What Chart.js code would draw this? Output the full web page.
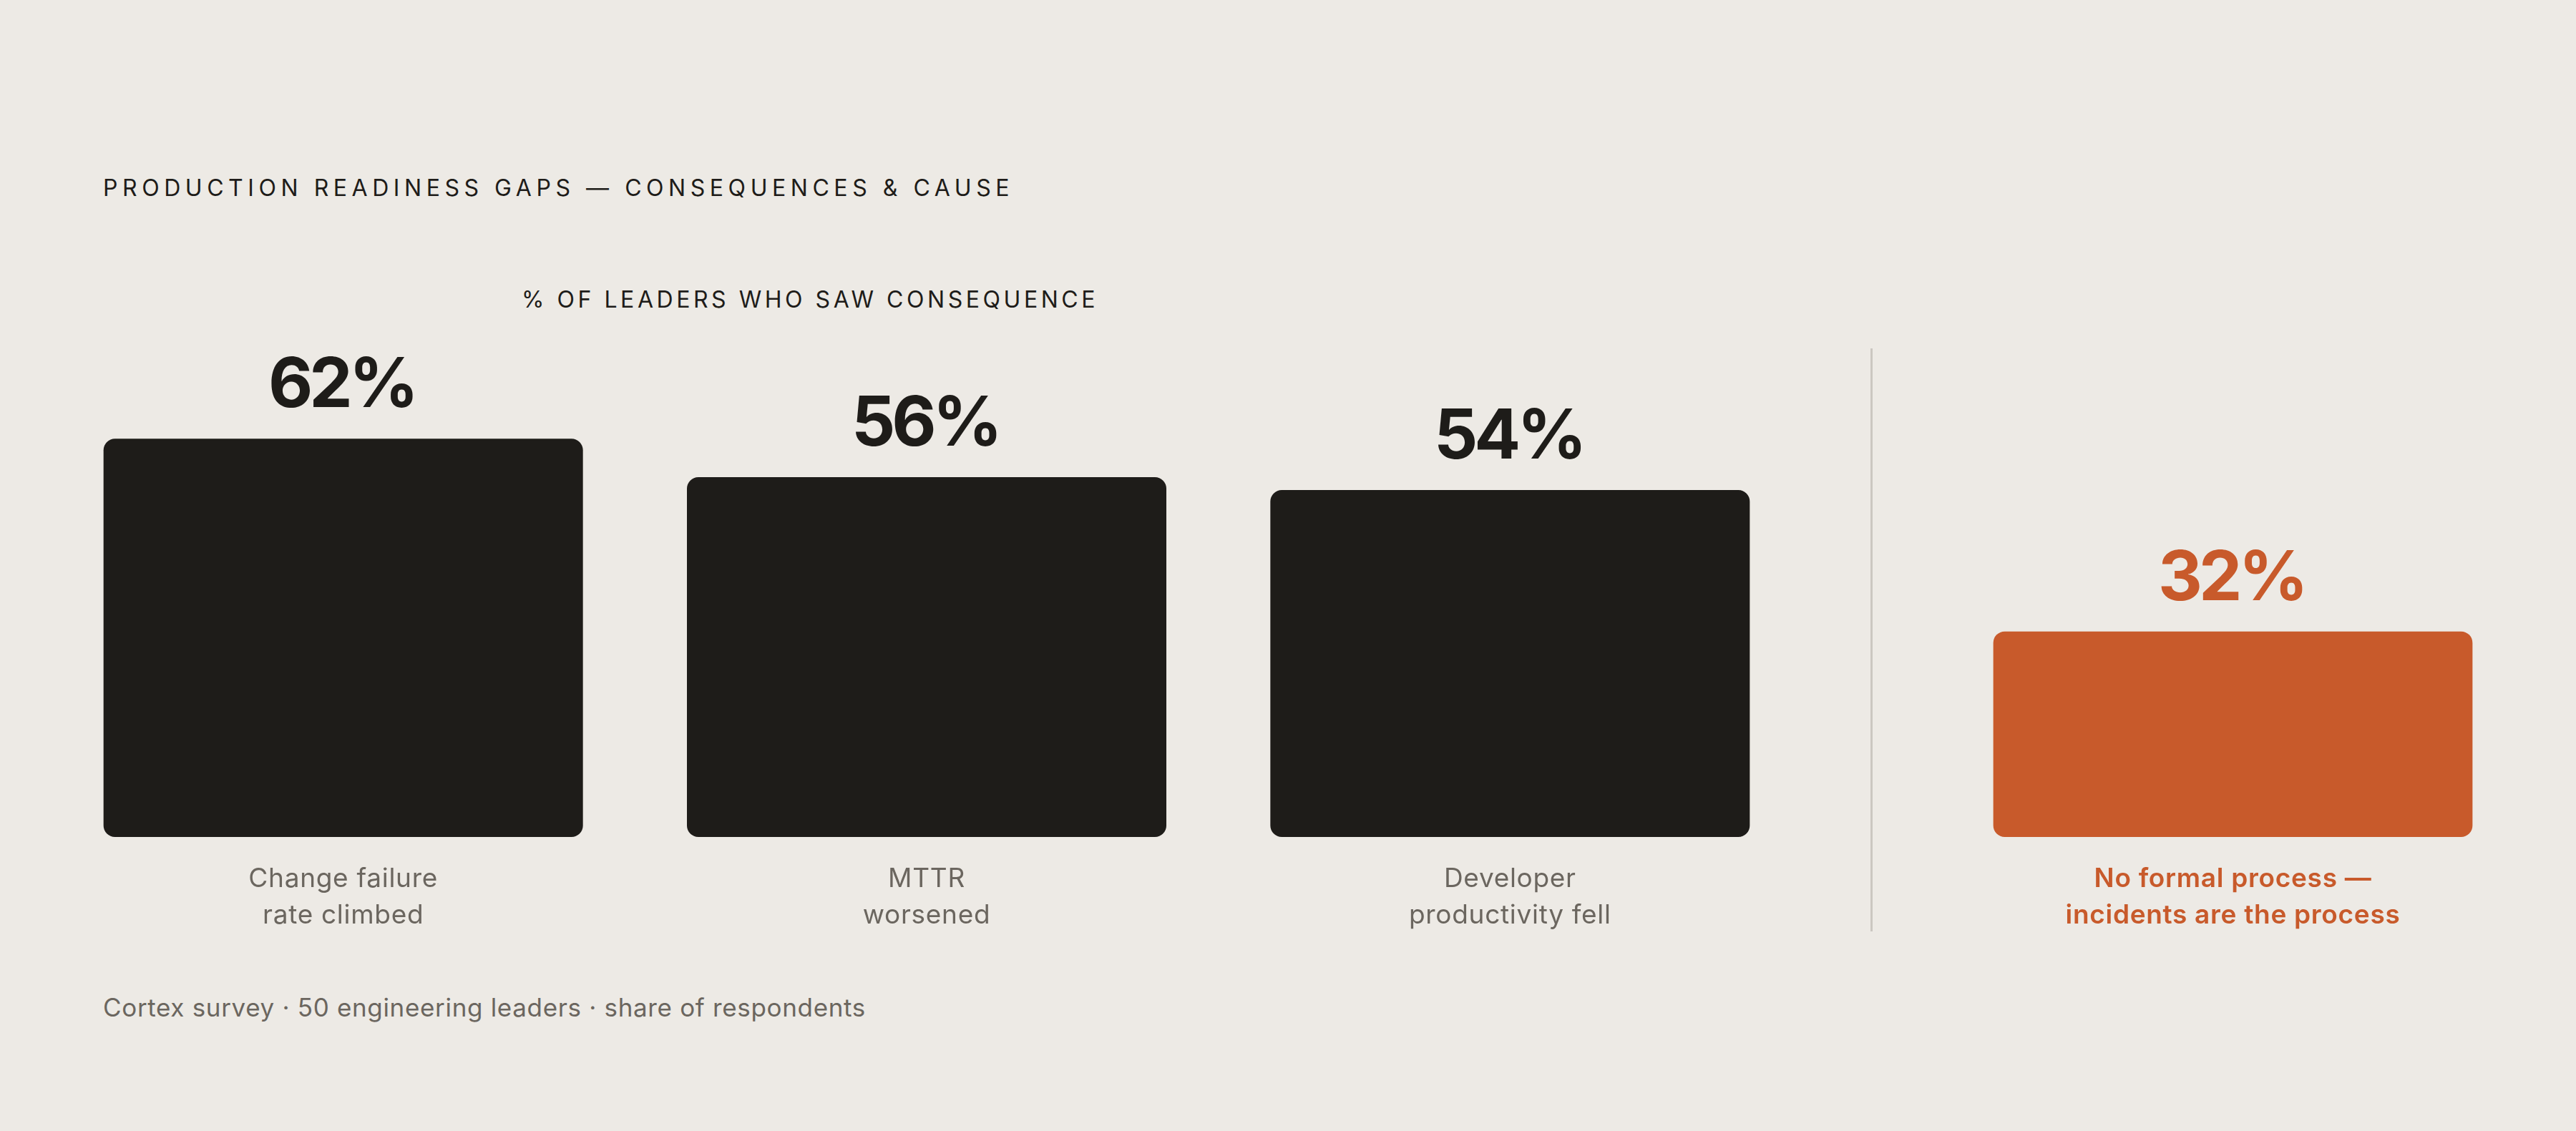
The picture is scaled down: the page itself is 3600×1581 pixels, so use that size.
<!DOCTYPE html>
<html><head><meta charset="utf-8">
<script src="https://cdn.jsdelivr.net/npm/chart.js@4.4.1/dist/chart.umd.min.js"></script>
<style>
html,body{margin:0;padding:0;background:#EDEAE5;width:3600px;height:1581px;overflow:hidden;font-family:Inter,"DejaVu Sans",sans-serif;}
.t{position:absolute;white-space:nowrap;line-height:1;margin:0;font-weight:400;}
#title{left:144px;top:247px;font-size:32px;color:#1e1c19;}
#subtitle{left:729px;top:403px;font-size:32px;color:#1e1c19;}
#footer{left:144px;top:1391px;font-size:35px;color:#6b665f;}
#divider{position:absolute;left:2614px;top:487px;width:3px;height:815px;background:#CBC7C1;}
.wrap{position:absolute;top:200px;height:1140px;}
#w1{left:72px;width:2446px;}
#w2{left:2713px;width:815px;}
</style>
</head><body>
<h1 class="t" id="title">PRODUCTION READINESS GAPS — CONSEQUENCES &amp; CAUSE</h1>
<div class="t" id="subtitle">% OF LEADERS WHO SAW CONSEQUENCE</div>
<div id="divider"></div>
<div class="wrap" id="w1"><canvas id="c1"></canvas></div>
<div class="wrap" id="w2"><canvas id="c2"></canvas></div>
<div class="t" id="footer">Cortex survey · 50 engineering leaders · share of respondents</div>
<script>
// ---- data ----
const consequenceLabels = [["Change failure", "rate climbed"], ["MTTR", "worsened"], ["Developer", "productivity fell"]];
const consequenceValues = [62, 56, 54];
const causeLabels = [["No formal process —", "incidents are the process"]];
const causeValues = [32];
const yMax = 100;

// ---- style ----
const DARK = '#1E1C19';
const ORANGE = '#C85A2B';
const GRAY = '#6B665F';
const FONT = 'Inter, "DejaVu Sans", sans-serif';

function fitSpacing(id, target) {
  const el = document.getElementById(id);
  el.style.letterSpacing = '0px';
  const w = el.getBoundingClientRect().width;
  const n = el.textContent.length;
  el.style.letterSpacing = ((target - w) / n) + 'px';
}
fitSpacing('title', 1273);
fitSpacing('subtitle', 806);
fitSpacing('footer', 1066);

const spacing = {
  id: 'spacing',
  beforeDraw(chart) { chart.ctx.letterSpacing = '0.7px'; }
};

const valueLabels = {
  id: 'valueLabels',
  afterDatasetsDraw(chart) {
    const ctx = chart.ctx;
    const ds = chart.data.datasets[0];
    const meta = chart.getDatasetMeta(0);
    ctx.save();
    ctx.font = '700 96px ' + FONT;
    ctx.letterSpacing = '-5px';
    ctx.fillStyle = ds.labelColor;
    ctx.textAlign = 'center';
    ctx.textBaseline = 'alphabetic';
    meta.data.forEach((bar, i) => {
      ctx.fillText(ds.data[i] + '%', bar.x - 2, bar.y - 44);
    });
    ctx.restore();
  }
};

function makeChart(id, labels, values, color, tickColor, tickWeight) {
  return new Chart(document.getElementById(id), {
    type: 'bar',
    data: {
      labels: labels,
      datasets: [{
        data: values,
        backgroundColor: color,
        labelColor: color,
        borderRadius: 16,
        borderSkipped: false,
        barPercentage: 670 / 815.33,
        categoryPercentage: 1
      }]
    },
    options: {
      responsive: true,
      maintainAspectRatio: false,
      animation: false,
      devicePixelRatio: 1,
      layout: { padding: { top: 72, left: 0, right: 0, bottom: 0 } },
      plugins: { legend: { display: false }, tooltip: { enabled: false }, title: { display: false } },
      scales: {
        y: { display: false, min: 0, max: yMax, grid: { display: false } },
        x: {
          display: true,
          border: { display: false },
          grid: { display: false, drawTicks: false },
          afterFit: (s) => { s.height = 170; },
          ticks: {
            color: tickColor,
            padding: 33,
            autoSkip: false,
            maxRotation: 0,
            font: { family: FONT, size: 37, weight: tickWeight, lineHeight: 51 / 37 }
          }
        }
      }
    },
    plugins: [spacing, valueLabels]
  });
}

makeChart('c1', consequenceLabels, consequenceValues, DARK, GRAY, '400');
makeChart('c2', causeLabels, causeValues, ORANGE, ORANGE, '600');
</script>
</body></html>
